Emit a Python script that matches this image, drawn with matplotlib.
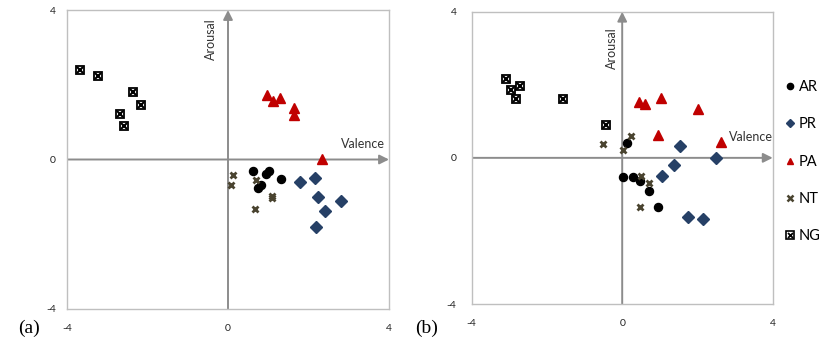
import matplotlib
matplotlib.use("Agg")
import matplotlib.pyplot as plt
from matplotlib.patches import FancyArrowPatch
from matplotlib.lines import Line2D

plt.rcParams['font.family'] = ['Lato', 'DejaVu Sans']

# ---- data: panel (a) ----
a_AR_x = [0.62, 1.02, 0.95, 1.31, 0.83, 0.75]
a_AR_y = [-0.31, -0.31, -0.40, -0.53, -0.69, -0.77]
a_PR_x = [1.80, 2.17, 2.23, 2.80, 2.40, 2.19]
a_PR_y = [-0.61, -0.50, -1.01, -1.11, -1.37, -1.81]
a_PA_x = [0.96, 1.11, 1.30, 1.63, 1.63, 2.33]
a_PA_y = [1.72, 1.56, 1.64, 1.38, 1.18, 0.02]
a_NT_x = [0.12, 0.08, 0.70, 1.09, 1.09, 0.67]
a_NT_y = [-0.42, -0.68, -0.55, -0.97, -1.04, -1.32]
a_NG_x = [-3.68, -3.22, -2.37, -2.15, -2.68, -2.58]
a_NG_y = [2.39, 2.23, 1.80, 1.45, 1.21, 0.90]

# ---- data: panel (b) ----
b_AR_x = [0.14, 0.03, 0.28, 0.48, 0.72, 0.94]
b_AR_y = [0.42, -0.53, -0.53, -0.63, -0.92, -1.35]
b_PR_x = [1.53, 2.50, 1.39, 1.06, 1.76, 2.15]
b_PR_y = [0.32, 0.00, -0.20, -0.49, -1.61, -1.67]
b_PA_x = [0.45, 0.61, 1.03, 2.01, 0.94, 2.63]
b_PA_y = [1.52, 1.47, 1.65, 1.34, 0.63, 0.44]
b_NT_x = [-0.50, 0.24, 0.01, 0.50, 0.71, 0.47]
b_NT_y = [0.38, 0.61, 0.22, -0.50, -0.69, -1.34]
b_NG_x = [-3.10, -2.96, -2.71, -2.82, -1.58, -0.44]
b_NG_y = [2.16, 1.86, 1.98, 1.61, 1.61, 0.91]

ticks = [-4, 0, 4]
tick_labels = ['-4', '0', '4']
legend_labels = ['AR', 'PR', 'PA', 'NT', 'NG']

C_AR = '#000000'
C_PR = '#264066'
C_PA = '#C00000'
C_NT = '#4A4430'
AXC = '#8C8C8C'
FRAME = '#BFBFBF'

fig = plt.figure(figsize=(8.2, 3.42), dpi=100)
axA = fig.add_axes([67/820, 1-309/342, 322/820, 299/342])
axB = fig.add_axes([471.7/820, 1-304/342, 301/820, 292.3/342])


def draw(ax, d, val_pos, aro_pos, ypad):
    ax.set_xlim(-4, 4)
    ax.set_ylim(-4, 4)
    for s in ax.spines.values():
        s.set_color(FRAME)
        s.set_linewidth(1.0)
    ax.set_xticks(ticks)
    ax.set_xticklabels(tick_labels)
    ax.set_yticks(ticks)
    ax.set_yticklabels(tick_labels)
    ax.tick_params(length=0, labelsize=7.5, colors='#222222')
    ax.tick_params(axis='x', pad=11)
    ax.tick_params(axis='y', pad=ypad)
    # axes arrows
    ax.add_patch(FancyArrowPatch((-4, 0), (4, 0), arrowstyle='-|>', mutation_scale=14,
                                 color=AXC, lw=1.4, shrinkA=0, shrinkB=0, zorder=1))
    ax.add_patch(FancyArrowPatch((0, -4), (0, 4), arrowstyle='-|>', mutation_scale=14,
                                 color=AXC, lw=1.4, shrinkA=0, shrinkB=0, zorder=1))
    ax.text(val_pos[0], val_pos[1], 'Valence', fontsize=9, color='#333333',
            ha='center', va='center')
    ax.text(aro_pos[0], aro_pos[1], 'Arousal', fontsize=9, color='#333333',
            ha='center', va='center', rotation=90)
    ax.plot(d['AR'][0], d['AR'][1], 'o', ms=5.8, color=C_AR, ls='none', zorder=3)
    ax.plot(d['PR'][0], d['PR'][1], 'D', ms=6.2, color=C_PR, ls='none', zorder=3)
    ax.plot(d['PA'][0], d['PA'][1], '^', ms=7.5, color=C_PA, ls='none', zorder=3)
    ax.plot(d['NT'][0], d['NT'][1], 'x', ms=5, mew=2.0, color=C_NT, ls='none', zorder=3)
    ax.plot(d['NG'][0], d['NG'][1], 's', ms=5.8, mfc='white', mec='black', mew=1.3,
            ls='none', zorder=3)
    ax.plot(d['NG'][0], d['NG'][1], 'x', ms=4.2, mew=1.5, color='black', ls='none', zorder=4)


dA = {'AR': (a_AR_x, a_AR_y), 'PR': (a_PR_x, a_PR_y), 'PA': (a_PA_x, a_PA_y),
      'NT': (a_NT_x, a_NT_y), 'NG': (a_NG_x, a_NG_y)}
dB = {'AR': (b_AR_x, b_AR_y), 'PR': (b_PR_x, b_PR_y), 'PA': (b_PA_x, b_PA_y),
      'NT': (b_NT_x, b_NT_y), 'NG': (b_NG_x, b_NG_y)}

draw(axA, dA, (3.35, 0.41), (-0.43, 3.21), 8)
draw(axB, dB, (3.41, 0.57), (-0.26, 3.0), 11)

# legend
handles = [
    Line2D([], [], marker='o', ls='none', ms=4.5, color=C_AR),
    Line2D([], [], marker='D', ls='none', ms=3.8, color=C_PR),
    Line2D([], [], marker='^', ls='none', ms=5, color=C_PA),
    Line2D([], [], marker='x', ls='none', ms=5, mew=1.8, color=C_NT),
    (Line2D([], [], marker='s', ls='none', ms=5.2, mfc='white', mec='black', mew=1.2),
     Line2D([], [], marker='x', ls='none', ms=3.6, mew=1.3, color='black')),
]
fig.legend(handles, legend_labels, loc='upper left', bbox_to_anchor=(784/820, 1-80/342),
           frameon=False, fontsize=10.5, labelspacing=1.6, handlelength=0.8,
           handletextpad=0.2, borderpad=0, borderaxespad=0)

fig.text(18/820, 1-328/342, '(a)', fontsize=14, family='Liberation Serif', va='center')
fig.text(415/820, 1-328/342, '(b)', fontsize=14, family='Liberation Serif', va='center')

fig.savefig('out.png', dpi=100)
